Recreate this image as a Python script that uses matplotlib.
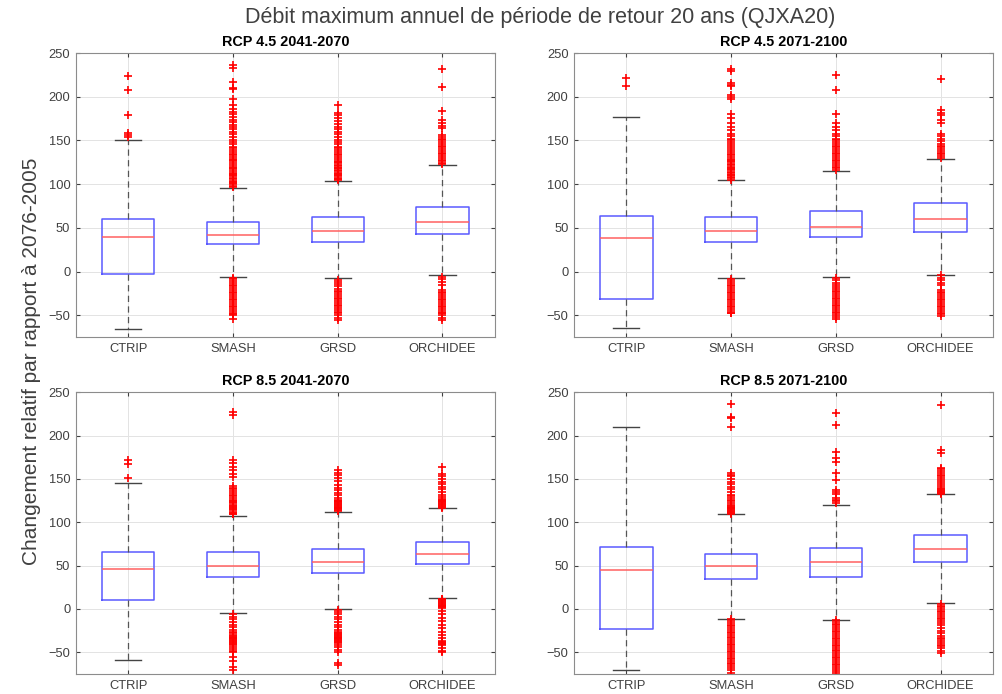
import matplotlib
matplotlib.use("Agg")
import matplotlib.pyplot as plt

plt.rcParams['font.family'] = ['Liberation Sans', 'DejaVu Sans']

models = ["CTRIP", "SMASH", "GRSD", "ORCHIDEE"]
titles = ["RCP 4.5 2041-2070", "RCP 4.5 2071-2100", "RCP 8.5 2041-2070", "RCP 8.5 2071-2100"]

# box stats per panel, one value per model
med_45_2041 = [39, 42, 46.5, 57]
q1_45_2041 = [-2.5, 31, 33.5, 42.7]
q3_45_2041 = [60, 57, 62, 74]
lo_45_2041 = [-66, -6.7, -8, -4.4]
hi_45_2041 = [150.5, 95.6, 104, 122.4]

med_45_2071 = [38, 46, 51.5, 60.3]
q1_45_2071 = [-31.6, 33.5, 39, 45.8]
q3_45_2071 = [63.4, 62, 69, 78.7]
lo_45_2071 = [-64.6, -8, -6, -3.6]
hi_45_2071 = [176.5, 104.4, 114.8, 128.5]

med_85_2041 = [46, 49.6, 53.8, 63.4]
q1_85_2041 = [9.8, 37.4, 42, 51.5]
q3_85_2041 = [66, 65.3, 69.5, 76.8]
lo_85_2041 = [-58.8, -4.4, 0, 12.8]
hi_85_2041 = [145.8, 107.5, 112, 116.3]

med_85_2071 = [45.4, 49.3, 54.6, 69]
q1_85_2071 = [-23.6, 34.3, 37.4, 53.8]
q3_85_2071 = [71, 63.8, 70.7, 85.6]
lo_85_2071 = [-70.3, -11, -12.5, 6.7]
hi_85_2071 = [209.4, 109, 120.5, 132.8]

# outliers
fl_45_2041 = [
    [224, 208, 179, 159, 156, 154],
    [237, 233, 217, 210, 209, 198, 191, 186, 183, 180, 177, 174, 171, 168, 166, 163, 160, 157,
     154, 151, 148, 146, 143, 141, 139, 137, 135, 133, 131, 129, 128, 126, 124, 122, 120, 119,
     117, 115, 113, 112, 110, 109, 107, 106, 104, 103, 101, 100, 98, 97,
     -7, -9, -11, -13, -15, -17, -19, -21, -23, -25, -27, -29, -31, -33, -35, -37, -39, -41,
     -43, -45, -47, -49, -50, -54],
    [191, 181, 179, 176, 172, 169, 166, 163, 160, 157, 154, 151, 148, 146, 143, 141, 139, 137,
     135, 133, 131, 129, 127, 125, 124, 122, 121, 119, 118, 116, 115, 113, 112, 110, 109, 107,
     106, 105,
     -10, -12, -14, -17, -20, -22, -24, -26, -28, -30, -32, -34, -36, -38, -40, -42, -44, -46,
     -48, -50, -53, -56],
    [232, 211, 184, 173, 170, 167, 164, 156, 154, 152, 150, 148, 146, 144, 142, 140, 138, 136,
     134, 132, 130, 128, 126, 124, 123,
     -6, -9, -12, -15, -21, -23, -25, -27, -29, -31, -33, -35, -37, -39, -41, -43, -45, -47,
     -48, -50, -53, -56],
]

fl_45_2071 = [
    [221, 212],
    [232, 230, 216, 214, 212, 202, 200, 198, 180, 176, 170, 166, 162, 158, 155, 152, 150, 148,
     146, 144, 141, 139, 137, 135, 133, 131, 129, 128, 126, 125, 123, 122, 120, 119, 117, 116,
     114, 113, 111, 110, 108, 107, 105,
     -9, -11, -13, -15, -17, -19, -21, -23, -25, -27, -29, -31, -33, -35, -37, -39, -41, -43,
     -45, -47, -48],
    [225, 208, 180, 170, 166, 162, 158, 155, 152, 150, 148, 146, 144, 142, 140, 138, 136, 134,
     132, 130, 128, 126, 124, 122, 120, 118, 116,
     -7, -10, -13, -16, -18, -20, -22, -24, -26, -28, -30, -32, -34, -36, -38, -40, -42, -44,
     -46, -48, -50, -52, -54],
    [220, 185, 182, 179, 174, 170, 158, 155, 152, 149, 146, 144, 142, 140, 138, 136, 134, 132,
     130,
     -4, -7, -10, -13, -16, -21, -23, -25, -27, -29, -31, -33, -35, -37, -39, -41, -43, -45,
     -47, -49, -51],
]

fl_85_2041 = [
    [172, 167, 151],
    [227, 224, 172, 168, 164, 160, 156, 152, 142, 140, 138, 136, 134, 132, 130, 128, 126, 124,
     123, 122, 120, 119, 118, 116, 115, 114, 112, 111, 110, 109,
     -6, -9, -12, -15, -18, -21, -24, -26, -28, -30, -31, -32, -33, -34, -35, -36, -37, -38,
     -39, -40, -42, -44, -46, -48, -50, -55, -60, -67, -70],
    [160, 157, 154, 151, 148, 143, 140, 137, 134, 131, 128, 126, 125, 124, 123, 122, 121, 120,
     119, 118, 117, 116, 115, 114, 113,
     -1, -3, -6, -9, -12, -15, -18, -21, -24, -26, -28, -29, -30, -31, -32, -33, -34, -35, -36,
     -37, -38, -39, -41, -44, -47, -50, -62, -65],
    [164, 156, 153, 150, 147, 144, 141, 138, 135, 132, 129, 127, 126, 125, 124, 123, 122, 121,
     120, 119, 118, 117,
     12, 11, 10, 9, 8, 7, 6, 5, 4, 3, 2, 1, -2, -6, -10, -14, -18, -22, -26, -30, -34, -37,
     -38, -39, -40, -41, -45, -48, -50],
]

fl_85_2071 = [
    [],
    [236, 222, 220, 210, 157, 155, 153, 150, 147, 144, 141, 138, 135, 132, 130, 128, 126, 124,
     122, 120, 119, 118, 117, 116, 115, 114, 113, 112, 111, 110,
     -12, -14, -16, -18, -20, -22, -24, -26, -28, -30, -32, -34, -36, -38, -40, -42, -44, -46,
     -48, -50, -52, -54, -56, -58, -60, -62, -64, -66, -68, -70, -74],
    [226, 212, 181, 174, 170, 157, 149, 137, 135, 133, 128, 126, 124, 122,
     -13, -15, -17, -19, -21, -23, -25, -27, -29, -31, -33, -35, -37, -39, -41, -43, -45, -47,
     -49, -51, -53, -55, -57, -59, -61, -63, -65, -67, -69, -71, -74],
    [235, 183, 180, 163, 161, 159, 157, 155, 153, 151, 149, 146, 144, 142, 140, 138, 137, 136,
     135, 134, 133,
     6, 4, 2, 0, -2, -4, -6, -8, -10, -12, -14, -16, -19, -22, -25, -28, -31, -33, -35, -37,
     -39, -41, -43, -45, -48, -51],
]

panels = [
    (med_45_2041, q1_45_2041, q3_45_2041, lo_45_2041, hi_45_2041, fl_45_2041),
    (med_45_2071, q1_45_2071, q3_45_2071, lo_45_2071, hi_45_2071, fl_45_2071),
    (med_85_2041, q1_85_2041, q3_85_2041, lo_85_2041, hi_85_2041, fl_85_2041),
    (med_85_2071, q1_85_2071, q3_85_2071, lo_85_2071, hi_85_2071, fl_85_2071),
]

fig = plt.figure(figsize=(10.02, 6.94), dpi=100)

# axes rectangles, taken from the reference layout
rects = [
    [0.0758, 0.5144, 0.418, 0.409],
    [0.5729, 0.5144, 0.418, 0.409],
    [0.0758, 0.0288, 0.418, 0.406],
    [0.5729, 0.0288, 0.418, 0.406],
]

for rect, title, (med, q1, q3, lo, hi, fl) in zip(rects, titles, panels):
    ax = fig.add_axes(rect)
    stats = []
    for i, name in enumerate(models):
        stats.append({'label': name, 'med': med[i], 'q1': q1[i], 'q3': q3[i],
                      'whislo': lo[i], 'whishi': hi[i], 'fliers': fl[i]})
    ax.bxp(stats, positions=[1, 2, 3, 4], widths=0.5, capwidths=0.25,
           boxprops=dict(color='#5a5aff', linewidth=1.1),
           medianprops=dict(color='#ff6060', linewidth=1.1),
           whiskerprops=dict(color='#555555', linewidth=0.9, linestyle=(0, (5, 3.5))),
           capprops=dict(color='#444444', linewidth=1.0),
           flierprops=dict(marker='+', markeredgecolor='red', markersize=6,
                           markeredgewidth=1.2, linestyle='none'))
    ax.set_xlim(0.5, 4.5)
    ax.set_ylim(-75, 250)
    ax.set_yticks([-50, 0, 50, 100, 150, 200, 250])
    ax.grid(True, color='#e3e3e3', linewidth=0.7)
    ax.set_axisbelow(True)
    ax.tick_params(direction='in', top=True, right=True, length=3, labelsize=9.3,
                   colors='#404040', pad=4)
    for sp in ax.spines.values():
        sp.set_color('#8c8c8c')
        sp.set_linewidth(0.8)
    ax.set_title(title, fontsize=10.4, fontweight='bold', pad=5)

fig.text(0.539, 0.975, "Débit maximum annuel de période de retour 20 ans (QJXA20)",
         ha='center', va='center', fontsize=15.5, color='#404040')
fig.text(0.031, 0.48, "Changement relatif par rapport à 2076-2005",
         ha='center', va='center', rotation=90, fontsize=15, color='#404040')

fig.savefig("out.png", dpi=100)
